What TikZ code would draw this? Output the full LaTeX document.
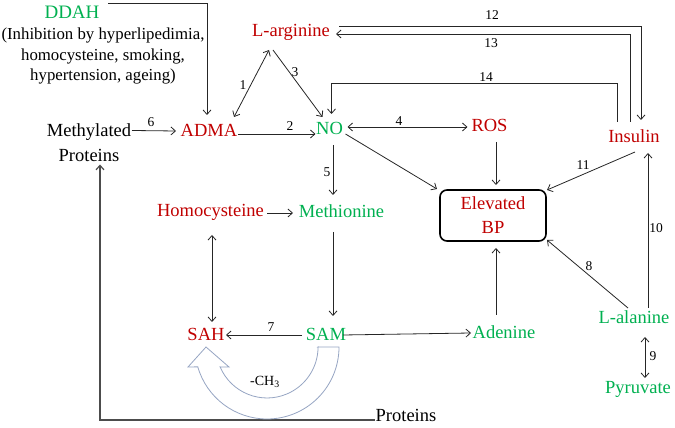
\documentclass[tikz,border=0pt]{standalone}
\usepackage{fontspec}
\setmainfont{Liberation Serif}
\usetikzlibrary{arrows.meta,calc}
\definecolor{dred}{RGB}{192,0,0}
\definecolor{dgreen}{RGB}{0,176,80}
\definecolor{arcol}{RGB}{150,165,195}
\begin{document}
\begin{tikzpicture}[x=1pt,y=1pt,
  lab/.style={font=\fontsize{18.5}{24}\selectfont, inner sep=0pt, text height=13pt, text depth=1pt},
  rtxt/.style={lab, text=dred},
  gtxt/.style={lab, text=dgreen},
  num/.style={font=\fontsize{13.5}{16}\selectfont, inner sep=0pt},
  conn/.style={line width=0.8pt, draw=black!85, -{Straight Barb[length=4.5pt,width=8pt]}},
  bconn/.style={line width=0.8pt, draw=black!85, {Straight Barb[length=4.5pt,width=8pt]}-{Straight Barb[length=4.5pt,width=8pt]}},
  plainline/.style={line width=0.8pt, draw=black!85}]
\useasboundingbox (0,0) rectangle (675,428);

% nodes
\node[gtxt, font=\fontsize{19}{22}\selectfont] (DDAH) at (72,415) {DDAH};
\node[align=center, font=\fontsize{16.8}{20.5}\selectfont, inner sep=0pt] (inh) at (103,372)
  {(Inhibition by hyperlipedimia,\\homocysteine, smoking,\\hypertension, ageing)};
\node[rtxt] (Larg) at (291,397) {L-arginine};
\node[rtxt] (ADMA) at (209,297) {ADMA};
\node[align=center, font=\fontsize{18.5}{25}\selectfont, inner sep=0pt] (MP) at (89,285.5) {Methylated\\Proteins};
\node[gtxt] (NO) at (329.5,299) {NO};
\node[rtxt] (ROS) at (489.5,302) {ROS};
\node[rtxt] (Ins) at (634,291) {Insulin};
\node[draw, line width=1.6pt, rounded corners=7pt, minimum width=106pt, minimum height=51pt,
  align=center, text=dred, font=\fontsize{18.5}{24}\selectfont, inner sep=0pt] (BP) at (493,212.5) {Elevated\\BP};
\node[rtxt] (Hcy) at (210.5,217) {Homocysteine};
\node[gtxt] (Met) at (341.5,216) {Methionine};
\node[rtxt] (SAH) at (206,93) {SAH};
\node[gtxt] (SAM) at (326,93) {SAM};
\node[gtxt] (Ade) at (504,95) {Adenine};
\node[gtxt] (Ala) at (634,110) {L-alanine};
\node[gtxt] (Pyr) at (638,40) {Pyruvate};
\node[lab] (Prot) at (406,12) {Proteins};

% number labels
\node[num] (n1) at (243,343) {1};
\node[num] (n2) at (290,302) {2};
\node[num] (n3) at (295,356) {3};
\node[num] (n4) at (399,307) {4};
\node[num] (n5) at (327,256) {5};
\node[num] (n6) at (151,306) {6};
\node[num] (n7) at (271,101) {7};
\node[num] (n8) at (589,162) {8};
\node[num] (n9) at (653,72) {9};
\node[num] (n10) at (656,200) {10};
\node[num] (n11) at (583,263) {11};
\node[num] (n12) at (492,413) {12};
\node[num] (n13) at (491,385) {13};
\node[num] (n14) at (486,351) {14};

% connectors
\draw[conn] ($(DDAH)+(36,10)$) -| ($(ADMA)+(-2,16)$);
\draw[bconn] ($(ADMA)+(25,14)$) -- ($(Larg)+(-22,-19)$);
\draw[conn] ($(Larg)+(-18,-19)$) -- ($(NO)+(-7,12)$);
\draw[conn] ($(MP)+(43,12)$) -- ($(ADMA)+(-33,0)$);
\draw[conn] ($(ADMA)+(29,-3)$) -- ($(NO)+(-14,-5)$);
\draw[conn] ($(NO)+(3.5,-16)$) -- ($(Met)+(-8.5,17)$);
\draw[bconn] ($(NO)+(18,2)$) -- ($(ROS)+(-22,-1)$);
\draw[conn] ($(NO)+(16,-5)$) -- ($(BP)+(-56,26.5)$);
\draw[conn] ($(ROS)+(6.5,-16)$) -- ($(BP)+(3,30.5)$);
\draw[conn] ($(Ins)+(1,-15)$) -- ($(BP)+(54,25.5)$);
\draw[conn] ($(Ala)+(14,10)$) -- ($(Ins)+(14,-16)$);
\draw[conn] ($(Ala)+(-6,10)$) -- ($(BP)+(54,-24.5)$);
\draw[conn] ($(Ade)+(-8,18)$) -- ($(BP)+(3,-32.5)$);
\draw[bconn] ($(Ala)+(11,-19)$) -- ($(Pyr)+(7,10)$);
\draw[conn] ($(Hcy)+(56.5,-2)$) -- ($(Met)+(-48.5,-1)$);
\draw[conn] ($(Met)+(-8.5,-20)$) -- ($(SAM)+(7,19)$);
\draw[bconn] ($(Hcy)+(1.5,-24)$) -- ($(SAH)+(6,13)$);
\draw[conn] ($(SAM)+(-24,0)$) -- ($(SAH)+(20,0)$);
\draw[conn] ($(SAM)+(17,0)$) -- ($(Ade)+(-33,0)$);
\draw[line width=1.2pt, draw=black!70, -{Straight Barb[length=4.5pt,width=8pt]}]
  ($(Prot)+(-31,-4)$) -| ($(MP)+(11,-22)$);
\draw[conn] ($(Larg)+(48,5)$) -| ($(Ins)+(7,17)$);
\draw[conn] ($(Ins)+(-4,15)$) |- ($(Larg)+(45,-3)$);
\draw[conn] ($(Ins)+(-17,15)$) |- ($(NO)+(2,46)$) -- ($(NO)+(2,15)$);

% curved hollow arrow (-CH3 transfer)
\draw[arcol, line width=0.8pt, fill=white]
  (318,81) -- (339,81) arc[start angle=0, end angle=-164, radius=72]
  -- (188,61) -- (206,81) -- (229,61) -- (220.1,61.1)
  arc[start angle=-157, end angle=0, radius=51] -- cycle;
\node[font=\fontsize{14}{16}\selectfont, inner sep=0pt] (ch3) at (265,46) {-CH\textsubscript{3}};
\end{tikzpicture}
\end{document}
